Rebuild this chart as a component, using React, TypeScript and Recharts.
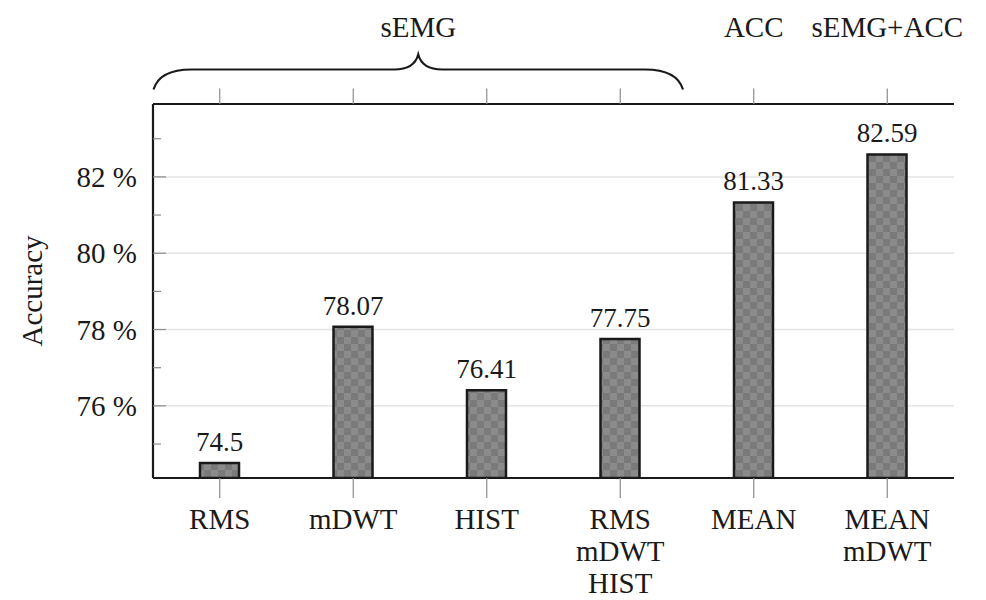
import React from 'react';
import {
    BarChart,
    Bar,
    XAxis,
    YAxis,
    CartesianGrid,
    LabelList
} from 'recharts';

// values
const features = ['RMS', 'mDWT', 'HIST', 'RMS\nmDWT\nHIST', 'MEAN', 'MEAN\nmDWT'];
const accuracy = [74.5, 78.07, 76.41, 77.75, 81.33, 82.59];
const groupLabels = ['sEMG', '', '', '', 'ACC', 'sEMG+ACC'];
const majorTicks = [76, 78, 80, 82];
const allTicks = [75, 76, 77, 78, 79, 80, 81, 82, 83];
const yDomain = [74.11, 83.91];

const chartData = features.map((name, i) => ({ name, accuracy: accuracy[i], group: groupLabels[i] }));

const FONT = "'Liberation Serif', 'Times New Roman', serif";
const INK = '#1a1a1a';
const TICK = '#8c8c8c';

const WIDTH = 970;
const HEIGHT = 592;
const LEFT = 145;
const RIGHT = 24;
const BAND = (WIDTH - LEFT - RIGHT) / features.length;

const textStyle = { fontFamily: FONT, fontSize: 29, fill: INK };

const LeftTick = ({ x, y, payload }: any) => {
    const major = payload.value % 2 === 0;
    return (
        <g>
            <line x1={x} x2={x + (major ? 13 : 8)} y1={y} y2={y} stroke={TICK} strokeWidth={1.2} />
            {major && (
                <text x={x - 16} y={y + 10} textAnchor="end" style={textStyle}>
                    {`${payload.value} %`}
                </text>
            )}
        </g>
    );
};

const RightTick = ({ x, y, payload }: any) => {
    const major = payload.value % 2 === 0;
    return <line x1={x} x2={x - (major ? 13 : 8)} y1={y} y2={y} stroke={TICK} strokeWidth={1.2} />;
};

const BottomTick = ({ x, y, payload }: any) => {
    const lines = String(payload.value).split('\n');
    return (
        <g>
            <line x1={x} x2={x} y1={y} y2={y + 20} stroke={TICK} strokeWidth={1.2} />
            {lines.map((l, i) => (
                <text key={i} x={x} y={y + 51 + i * 32} textAnchor="middle" style={textStyle}>
                    {l}
                </text>
            ))}
        </g>
    );
};

const TopTick = ({ x, y, index }: any) => {
    const label = groupLabels[index];
    let brace = null;
    let labelX = x;
    if (index === 0) {
        // brace over the four sEMG feature sets
        const x0 = x - BAND / 2 + 0.5;
        const x1 = x + 3.5 * BAND - 4;
        const tip = (x0 + x1) / 2;
        const yb = y - 14.5;
        const ya = y - 34.5;
        const yt = y - 49.5;
        const d = `M${x0},${yb} Q${x0 + 6},${ya} ${x0 + 38},${ya} L${tip - 24},${ya} Q${tip - 4},${ya} ${tip},${yt} ` +
            `Q${tip + 4},${ya} ${tip + 24},${ya} L${x1 - 38},${ya} Q${x1 - 6},${ya} ${x1},${yb}`;
        brace = <path d={d} fill="none" stroke={INK} strokeWidth={2.2} />;
        labelX = tip;
    }
    return (
        <g>
            <line x1={x} x2={x} y1={y} y2={y - 15.5} stroke={TICK} strokeWidth={1.2} />
            {brace}
            {label && (
                <text x={labelX} y={y - 67.5} textAnchor="middle" style={textStyle}>
                    {label}
                </text>
            )}
        </g>
    );
};

const AxisTitle = ({ viewBox }: any) => {
    const cx = viewBox.x + 34;
    const cy = viewBox.y + viewBox.height / 2;
    return (
        <text x={cx} y={cy} transform={`rotate(-90, ${cx}, ${cy})`} textAnchor="middle" style={textStyle}>
            Accuracy
        </text>
    );
};

const App: React.FC = () => {
    return (
        <BarChart width={WIDTH} height={HEIGHT} data={chartData} margin={{ top: 0, right: RIGHT, left: 0, bottom: 0 }}>
            <defs>
                <pattern id="checker" width="14" height="14" patternUnits="userSpaceOnUse">
                    <rect width="14" height="14" fill="#8b8b8b" />
                    <rect width="7" height="7" fill="#7a7a7a" />
                    <rect x="7" y="7" width="7" height="7" fill="#7a7a7a" />
                </pattern>
            </defs>
            <CartesianGrid yAxisId="grid" vertical={false} stroke="#e4e4e4" strokeWidth={1.5} />
            <XAxis
                dataKey="name"
                height={122}
                interval={0}
                tickSize={0}
                tickMargin={0}
                tick={<BottomTick />}
                axisLine={{ stroke: INK, strokeWidth: 2.2 }}
            />
            <XAxis
                xAxisId="top"
                dataKey="name"
                orientation="top"
                height={96}
                interval={0}
                tickSize={0}
                tickMargin={0}
                tick={<TopTick />}
                axisLine={{ stroke: INK, strokeWidth: 2.2 }}
            />
            <YAxis
                type="number"
                domain={yDomain}
                allowDataOverflow
                ticks={allTicks}
                interval={0}
                width={LEFT}
                tickSize={0}
                tickMargin={0}
                tick={<LeftTick />}
                axisLine={{ stroke: INK, strokeWidth: 2.2 }}
                label={AxisTitle}
            />
            <YAxis
                yAxisId="right"
                orientation="right"
                type="number"
                domain={yDomain}
                allowDataOverflow
                ticks={allTicks}
                interval={0}
                width={0}
                tickSize={0}
                tickMargin={0}
                tick={<RightTick />}
                axisLine={{ stroke: INK, strokeWidth: 2.2 }}
            />
            <YAxis yAxisId="grid" hide type="number" domain={yDomain} allowDataOverflow ticks={majorTicks} />
            <Bar
                dataKey="accuracy"
                barSize={39}
                fill="url(#checker)"
                stroke={INK}
                strokeWidth={2.5}
                isAnimationActive={false}
            >
                <LabelList
                    dataKey="accuracy"
                    position="top"
                    offset={12}
                    fontFamily={FONT}
                    fontSize={27}
                    fill={INK}
                    style={{ fontFamily: FONT }}
                />
            </Bar>
        </BarChart>
    );
};

export default App;
